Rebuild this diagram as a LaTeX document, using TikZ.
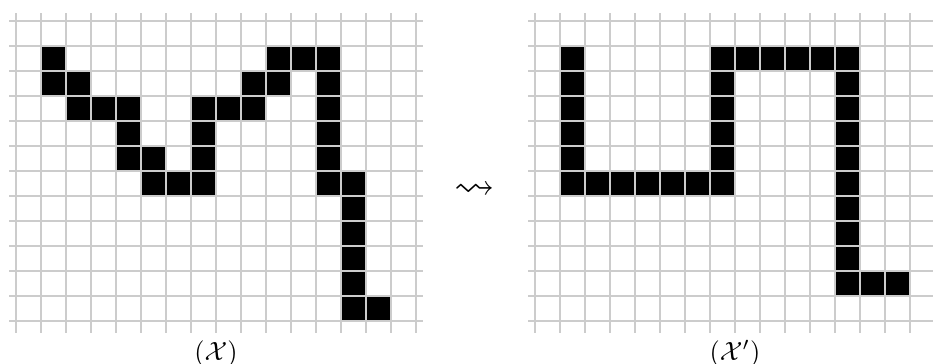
\documentclass[tikz,border=0pt]{standalone}
\usepackage{amssymb}
\begin{document}
\begin{tikzpicture}[x=0.02cm,y=-0.02cm,
  gridline/.style={draw=gray!40,line width=0.7pt},
  cellfill/.style={fill=black},
  lbl/.style={scale=1.5,inner sep=0pt}]
\useasboundingbox (0,0) rectangle (933,363);
\clip (0,0) rectangle (933,363);
% left configuration
\foreach \c/\r in {1/1,10/1,11/1,12/1,
  1/2,2/2,9/2,10/2,12/2,
  2/3,3/3,4/3,7/3,8/3,9/3,12/3,
  4/4,7/4,12/4,
  4/5,5/5,7/5,12/5,
  5/6,6/6,7/6,12/6,13/6,
  13/7,13/8,13/9,13/10,13/11,14/11}
  \fill[cellfill] ({16+25*\c},{21+25*\r}) rectangle ++(25,25);
% right configuration
\foreach \c/\r in {1/1,7/1,8/1,9/1,10/1,11/1,12/1,
  1/2,7/2,12/2,1/3,7/3,12/3,1/4,7/4,12/4,1/5,7/5,12/5,
  1/6,2/6,3/6,4/6,5/6,6/6,7/6,12/6,
  12/7,12/8,12/9,12/10,13/10,14/10}
  \fill[cellfill] ({535+25*\c},{21+25*\r}) rectangle ++(25,25);
% grids
\foreach \k in {0,...,16} {
  \draw[gridline] ({16+25*\k},13) -- ({16+25*\k},333);
  \draw[gridline] ({535+25*\k},13) -- ({535+25*\k},333);
}
\foreach \j in {0,...,12} {
  \draw[gridline] (9,{21+25*\j}) -- (423,{21+25*\j});
  \draw[gridline] (528,{21+25*\j}) -- (942,{21+25*\j});
}
% labels
\node[lbl,anchor=base] (labelL) at (216,360) {$(\mathcal{X})$};
\node[lbl,anchor=base] (labelR) at (735,360) {$(\mathcal{X}')$};
\node[scale=2.3,inner sep=0pt,anchor=base] (arrow) at (475,198) {$\rightsquigarrow$};
\end{tikzpicture}
\end{document}
